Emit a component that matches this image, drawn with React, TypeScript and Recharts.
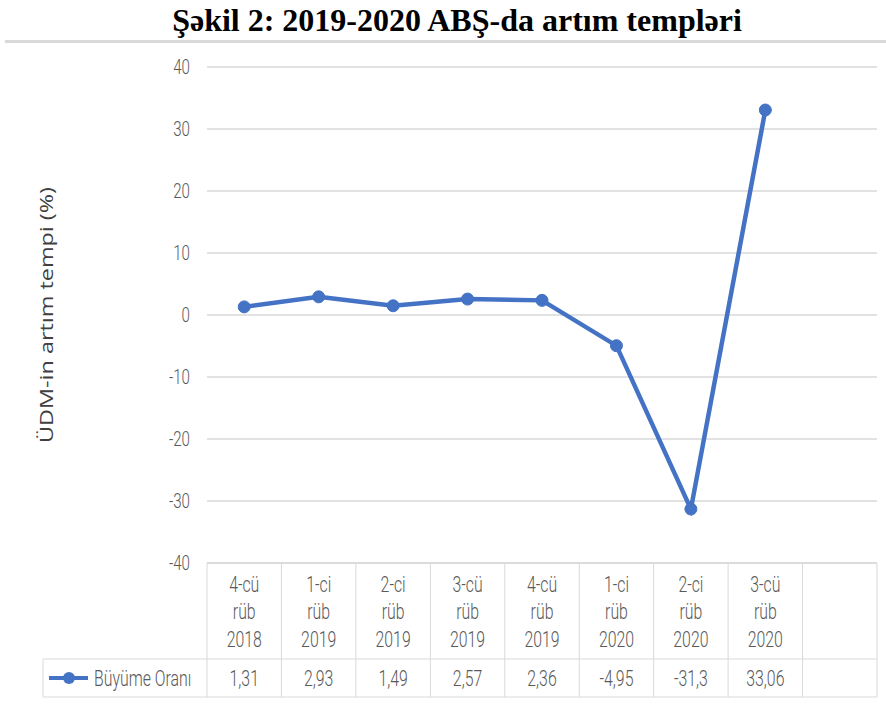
import React from 'react';
import { LineChart, Line, XAxis, YAxis, CartesianGrid } from 'recharts';

const quarters = ['4-cü', '1-ci', '2-ci', '3-cü', '4-cü', '1-ci', '2-ci', '3-cü', ''];
const years = ['2018', '2019', '2019', '2019', '2019', '2020', '2020', '2020', ''];
const growth: (number | null)[] = [1.31, 2.93, 1.49, 2.57, 2.36, -4.95, -31.3, 33.06, null];
const growthLabels = ['1,31', '2,93', '1,49', '2,57', '2,36', '-4,95', '-31,3', '33,06', ''];
const yTicks = [-40, -30, -20, -10, 0, 10, 20, 30, 40];

const data = quarters.map((q, i) => ({
  name: `c${i}`,
  quarter: q,
  year: years[i],
  value: growth[i],
  label: growthLabels[i],
}));

const W = 886;
const H = 707;
const PLOT_LEFT = 207;
const PLOT_RIGHT = 877;
const PLOT_TOP = 67;
const PLOT_BOTTOM = 563;
const HEAD_H = 96;
const ROW_H = 38;
const BAND = (PLOT_RIGHT - PLOT_LEFT) / data.length;
const BORDER = '#d9d9d9';
const BLUE = '#4472C4';
const GREY = '#595959';
const SANS = 'Roboto, "Noto Sans", sans-serif';
const SQUEEZE = 0.72;

// condensed text, like the stretched Excel picture
const Narrow = ({ x, y, anchor = 'middle', size = 22, children }: any) => (
  <g transform={`translate(${x} ${y}) scale(${SQUEEZE} 1)`}>
    <text x={0} y={0} textAnchor={anchor} fontFamily={SANS} fontWeight={300} fontSize={size} fill={GREY}>
      {children}
    </text>
  </g>
);

const YTick = (props: any) => {
  const { x, y, payload } = props;
  return (
    <Narrow x={x} y={y + 7} anchor="end" size={21}>
      {payload.value}
    </Narrow>
  );
};

const HeaderTick = (props: any) => {
  const { x, index } = props;
  const d = data[index];
  const left = x - BAND / 2;
  const right = x + BAND / 2;
  const last = index === data.length - 1;
  return (
    <g>
      <line x1={left} y1={PLOT_BOTTOM} x2={left} y2={PLOT_BOTTOM + HEAD_H + ROW_H} stroke={BORDER} />
      {last && <line x1={right} y1={PLOT_BOTTOM} x2={right} y2={PLOT_BOTTOM + HEAD_H + ROW_H} stroke={BORDER} />}
      {d.quarter && (
        <g>
          <Narrow x={x} y={PLOT_BOTTOM + 29}>{d.quarter}</Narrow>
          <Narrow x={x} y={PLOT_BOTTOM + 56}>rüb</Narrow>
          <Narrow x={x} y={PLOT_BOTTOM + 84}>{d.year}</Narrow>
        </g>
      )}
    </g>
  );
};

const RowTick = (props: any) => {
  const { x, index } = props;
  const d = data[index];
  const top = PLOT_BOTTOM + HEAD_H;
  const bottom = top + ROW_H;
  const midY = top + ROW_H / 2;
  return (
    <g>
      {index === 0 && (
        <g>
          <line x1={43} y1={top} x2={PLOT_RIGHT} y2={top} stroke={BORDER} />
          <line x1={43} y1={bottom} x2={PLOT_RIGHT} y2={bottom} stroke={BORDER} />
          <line x1={43} y1={top} x2={43} y2={bottom} stroke={BORDER} />
          <line x1={49} y1={midY} x2={88} y2={midY} stroke={BLUE} strokeWidth={4} />
          <circle cx={69} cy={midY} r={6} fill={BLUE} />
          <Narrow x={94} y={midY + 8} anchor="start">Büyüme Oranı</Narrow>
        </g>
      )}
      {d.label && <Narrow x={x} y={midY + 8}>{d.label}</Narrow>}
    </g>
  );
};

const yMid = (PLOT_TOP + PLOT_BOTTOM) / 2;

export default function App() {
  return (
    <div style={{ position: 'absolute', left: 0, top: 0, width: W, height: H, background: '#fff' }}>
      <div
        style={{
          position: 'absolute',
          left: 0,
          top: 2,
          width: W,
          paddingLeft: 28,
          boxSizing: 'border-box',
          textAlign: 'center',
          fontFamily: '"Liberation Serif", "Times New Roman", serif',
          fontWeight: 'bold',
          fontSize: 32,
          lineHeight: '36px',
          color: '#000',
          whiteSpace: 'nowrap',
        }}
      >
        Şəkil 2: 2019-2020 ABŞ-da artım templəri
      </div>
      <div style={{ position: 'absolute', left: 5, right: 0, top: 40, height: 3, background: '#d9d9d9' }} />
      <LineChart
        width={W}
        height={H}
        data={data}
        margin={{ top: PLOT_TOP, right: W - PLOT_RIGHT, left: 0, bottom: H - PLOT_BOTTOM - HEAD_H - ROW_H }}
        style={{ position: 'absolute', left: 0, top: 0 }}
      >
        <CartesianGrid vertical={false} stroke={BORDER} strokeWidth={1.5} />
        <YAxis
          width={PLOT_LEFT}
          domain={[-40, 40]}
          ticks={yTicks}
          axisLine={false}
          tickLine={false}
          tickSize={8}
          tickMargin={9}
          tick={<YTick />}
          label={{
            content: () => (
              <g transform={`translate(53 ${yMid}) rotate(-90) scale(1.3 1)`}>
                <text x={0} y={0} textAnchor="middle" fontFamily='"Open Sans", sans-serif' fontSize={18} fill="#404040">
                  ÜDM-in artım tempi (%)
                </text>
              </g>
            ),
          }}
        />
        <XAxis
          dataKey="name"
          scale="band"
          height={HEAD_H}
          axisLine={{ stroke: BORDER, strokeWidth: 1.5 }}
          tickLine={false}
          interval={0}
          tick={<HeaderTick />}
        />
        <XAxis
          xAxisId="table"
          dataKey="name"
          scale="band"
          height={ROW_H}
          axisLine={false}
          tickLine={false}
          interval={0}
          tick={<RowTick />}
        />
        <Line
          dataKey="value"
          stroke={BLUE}
          strokeWidth={4.5}
          dot={{ r: 6, fill: BLUE, stroke: BLUE, strokeWidth: 1 }}
          isAnimationActive={false}
        />
      </LineChart>
    </div>
  );
}
